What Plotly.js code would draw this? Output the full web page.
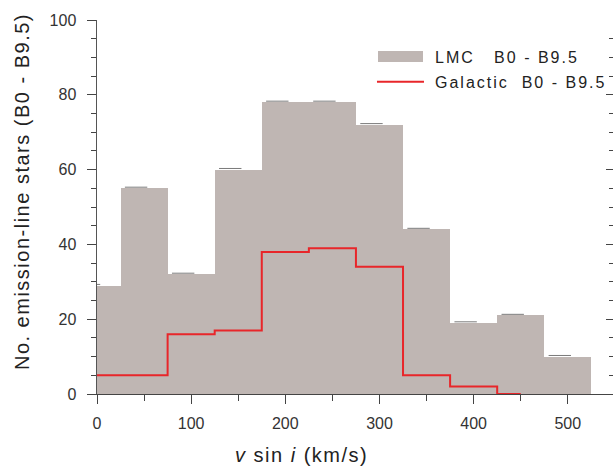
<!DOCTYPE html>
<html>
<head>
<meta charset="utf-8">
<script src="https://cdn.plot.ly/plotly-3.0.1.min.js"></script>
<style>
  html, body { margin: 0; padding: 0; background: #fff; }
  #chart { width: 613px; height: 471px; }
  text.annotation-text { letter-spacing: 1.5px; }
  text.annotation-text[data-unformatted^="LMC"],
  text.annotation-text[data-unformatted^="Galactic"] { letter-spacing: 2px; }
</style>
</head>
<body>
<div id="chart"></div>
<script>
// Bin centres (km/s), bin width 50
const binCenters = [0, 50, 100, 150, 200, 250, 300, 350, 400, 450, 500];
// LMC B0 - B9.5 emission-line star counts
const lmcCounts = [29, 55, 32, 60, 78, 78, 72, 44, 19, 21, 10];
// Galactic B0 - B9.5 emission-line star counts (bins 0..450)
const galCenters = [0, 50, 100, 150, 200, 250, 300, 350, 400, 450];
const galCounts = [5, 5, 16, 17, 38, 39, 34, 5, 2, 0];
const xTickVals = [0, 100, 200, 300, 400, 500];
const yTickVals = [0, 20, 40, 60, 80, 100];
const legendLabels = ["LMC\u00a0\u00a0\u00a0B0 - B9.5", "Galactic\u00a0\u00a0B0 - B9.5"];

const font = "Liberation Sans, Arial, sans-serif";
const barColor = "#bfb6b3";
const redColor = "#e8262a";

const traces = [
  {
    type: "bar",
    x: binCenters,
    y: lmcCounts,
    width: 50,
    marker: { color: barColor, line: { width: 0 } },
    hoverinfo: "x+y",
    showlegend: false
  },
  {
    type: "scatter",
    mode: "markers",
    x: binCenters.map(c => c - 8.5),
    y: lmcCounts.map(v => v + 0.3),
    marker: { symbol: "line-ew", size: 16, line: { width: 1, color: "#7a7a7a" } },
    hoverinfo: "skip",
    showlegend: false,
    yaxis: "y2"
  },
  {
    type: "scatter",
    mode: "lines",
    x: galCenters,
    y: galCounts,
    line: { shape: "hvh", color: redColor, width: 2 },
    cliponaxis: false,
    showlegend: false
  }
];

const layout = {
  width: 613,
  height: 471,
  margin: { l: 97, r: 0, t: 20, b: 77 },
  paper_bgcolor: "#fff",
  plot_bgcolor: "#fff",
  font: { family: font, color: "#333", size: 16 },
  bargap: 0,
  showlegend: false,
  xaxis: {
    range: [0, 548],
    tickvals: xTickVals,
    ticks: "outside",
    ticklen: 9,
    tickwidth: 1,
    tickcolor: "#444",
    ticklabelstandoff: 6,
    minor: { dtick: 50, tick0: 0, ticks: "outside", ticklen: 6, tickcolor: "#444", showgrid: false },
    showline: true,
    linecolor: "#444",
    linewidth: 1,
    showgrid: false,
    zeroline: false,
    tickfont: { size: 16, color: "#333" }
  },
  yaxis: {
    range: [0, 100],
    tickvals: yTickVals,
    ticks: "outside",
    ticklen: 9,
    tickwidth: 1,
    tickcolor: "#444",
    ticklabelstandoff: 7,
    minor: { dtick: 5, tick0: 0, ticks: "outside", ticklen: 5, tickcolor: "#444", showgrid: false },
    showline: true,
    linecolor: "#555",
    linewidth: 1.5,
    showgrid: false,
    zeroline: false,
    tickfont: { size: 16, color: "#333" }
  },
  yaxis2: {
    overlaying: "y",
    side: "right",
    matches: "y",
    range: [0, 100],
    tickvals: yTickVals,
    ticks: "inside",
    ticklen: 7,
    tickcolor: "#444",
    minor: { dtick: 5, tick0: 0, ticks: "inside", ticklen: 4, tickcolor: "#444", showgrid: false },
    showticklabels: false,
    showline: false,
    showgrid: false,
    zeroline: false
  },
  shapes: [
    { type: "rect", xref: "paper", yref: "paper", x0: 0.5446, x1: 0.6318, y0: 0.888, y1: 0.917,
      fillcolor: barColor, line: { width: 0 } },
    { type: "line", xref: "paper", yref: "paper", x0: 0.5426, x1: 0.6337, y0: 0.835, y1: 0.835,
      line: { color: redColor, width: 2 } }
  ],
  annotations: [
    { xref: "paper", yref: "paper", x: 0.651, y: 0.899, xanchor: "left", yanchor: "middle",
      text: legendLabels[0], showarrow: false, font: { size: 16, color: "#222" } },
    { xref: "paper", yref: "paper", x: 0.651, y: 0.832, xanchor: "left", yanchor: "middle",
      text: legendLabels[1], showarrow: false, font: { size: 16, color: "#222" } },
    { xref: "paper", yref: "paper", x: -0.1453, y: 0.54, xanchor: "center", yanchor: "middle",
      textangle: -90, text: "No. emission-line stars (B0 - B9.5)", showarrow: false,
      font: { size: 20, color: "#222" } },
    { xref: "paper", yref: "paper", x: 0.397, y: -0.163, xanchor: "center", yanchor: "middle",
      text: "<i>v</i> sin <i>i</i> (km/s)", showarrow: false, font: { size: 20, color: "#222" } }
  ]
};

Plotly.newPlot("chart", traces, layout, { displayModeBar: false, staticPlot: true });
</script>
</body>
</html>
